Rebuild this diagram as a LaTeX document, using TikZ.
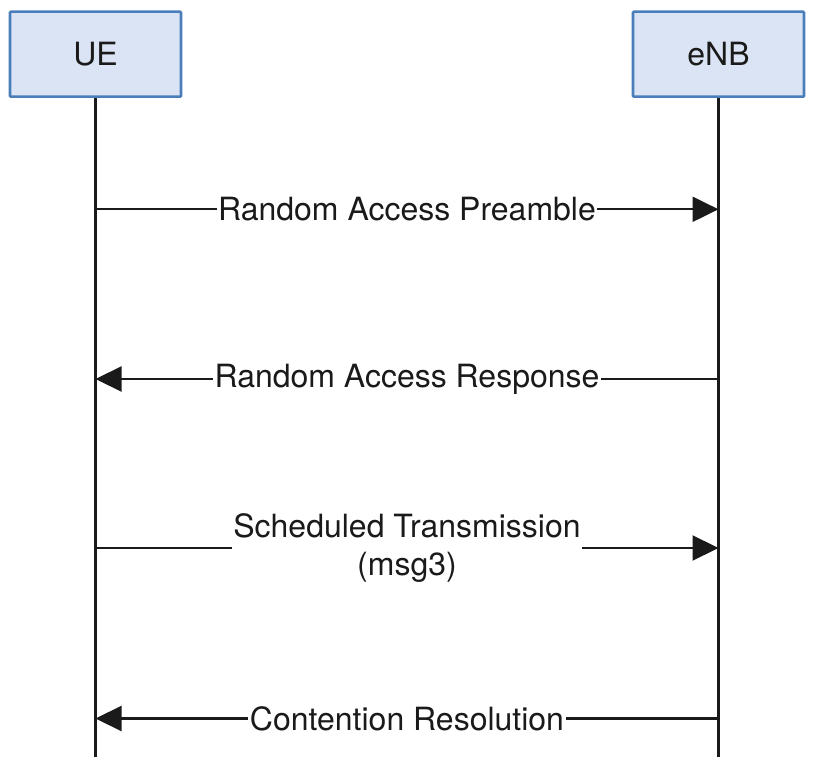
\documentclass[tikz,border=0pt]{standalone}
\usepackage{fontspec}
\setmainfont{TeX Gyre Heros}
\usetikzlibrary{arrows.meta}
\definecolor{boxfill}{HTML}{DAE4F4}
\definecolor{boxline}{HTML}{4A7EBB}
\definecolor{ink}{HTML}{1A1A1A}
\begin{document}
\begin{tikzpicture}[x=1pt,y=-1pt,
  actor/.style={draw=boxline,fill=boxfill,line width=2.6pt,rounded corners=1pt,
    minimum width=171pt,minimum height=85pt,inner sep=0pt,text=ink,
    font=\fontsize{32}{38}\selectfont},
  life/.style={draw=ink,line width=2.2pt},
  msg/.style={draw=ink,line width=2.2pt,-{Triangle[length=26pt,width=25pt]}},
  lbl/.style={fill=white,inner xsep=1.5pt,inner ysep=1pt,text=ink,align=center,
    font=\fontsize{32}{38}\selectfont}]
\useasboundingbox (0,0) rectangle (815,765);
\node[actor] (ue) at (95.5,54.2) {UE};
\node[actor] (enb) at (718.5,54.2) {eNB};
\coordinate (ueend) at (95.5,757);
\coordinate (enbend) at (718.5,757);
\draw[life] (ue.south) -- (ueend);
\draw[life] (enb.south) -- (enbend);
\coordinate (u1) at (95.5,209.3);
\coordinate (e1) at (718.5,209.3);
\coordinate (u2) at (95.5,379);
\coordinate (e2) at (718.5,379);
\coordinate (u3) at (95.5,548);
\coordinate (e3) at (718.5,548);
\coordinate (u4) at (95.5,718.5);
\coordinate (e4) at (718.5,718.5);
\draw[msg] (u1) -- node[lbl] (m1) {Random Access Preamble} (e1);
\draw[msg] (e2) -- node[lbl] (m2) {Random Access Response} (u2);
\draw[msg] (u3) -- node[lbl] (m3) {Scheduled Transmission\\(msg3)} (e3);
\draw[msg] (e4) -- node[lbl] (m4) {Contention Resolution} (u4);
\end{tikzpicture}
\end{document}
